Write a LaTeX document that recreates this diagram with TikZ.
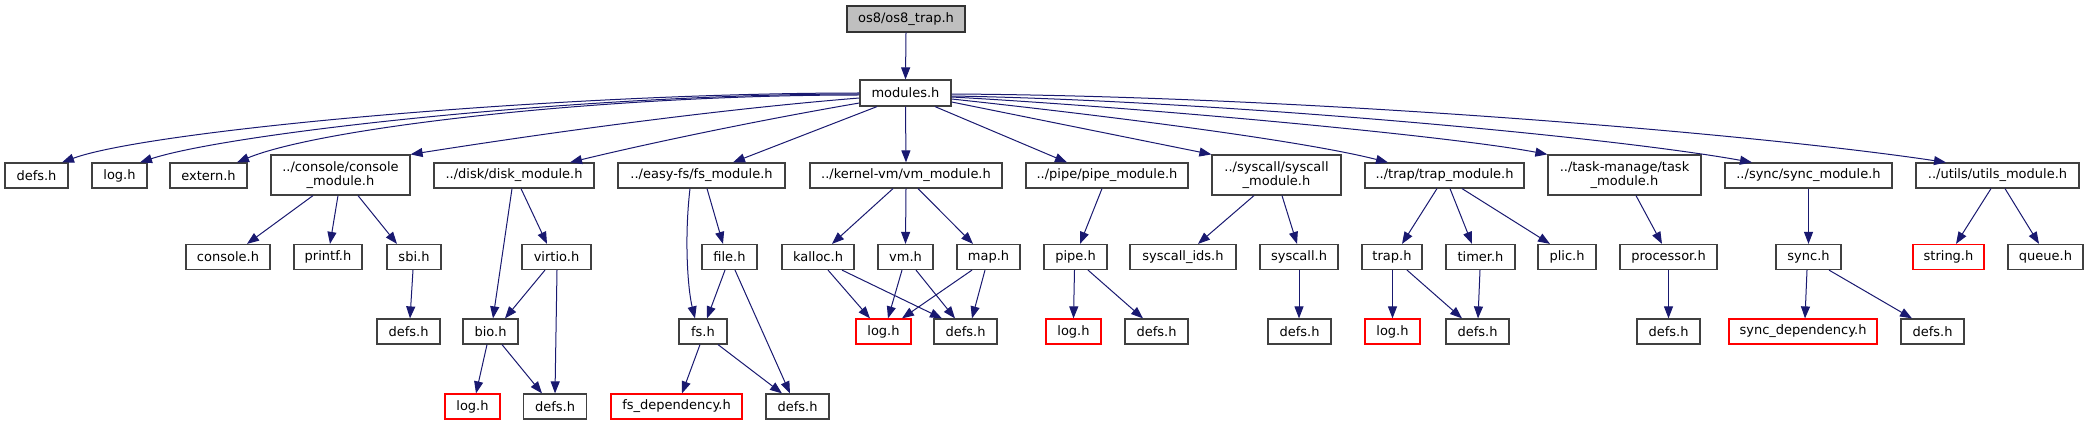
\documentclass[tikz,border=0pt]{standalone}
\usepackage{fontspec}
\setmainfont{DejaVu Sans}
\usetikzlibrary{arrows.meta}
\definecolor{edgeblue}{HTML}{191970}
\definecolor{rootfill}{HTML}{BFBFBF}
\definecolor{boxline}{HTML}{404040}
\tikzset{
  box/.style={draw=boxline, line width=1.2pt, fill=white, rectangle, inner sep=0pt,
    minimum height=25pt, align=center, text=black,
    font=\fontsize{13pt}{14.5pt}\selectfont},
  twoline/.style={box, minimum height=40pt},
  redbox/.style={box, draw=red},
  rootbox/.style={box, fill=rootfill, draw=black!80, minimum height=26pt},
  dep/.style={draw=edgeblue, line width=1pt, -{Triangle[length=12pt,width=9pt]}, fill=none}
}
\begin{document}
\begin{tikzpicture}[x=1pt,y=-1pt]
\useasboundingbox (0,0) rectangle (2089,425);
% nodes
\node[rootbox, minimum width=118pt] (root) at (906,19) {os8/os8\_trap.h};
\node[box, minimum width=91pt, minimum height=26pt] (mod) at (905.5,93) {modules.h};
% row 1
\node[box, minimum width=63pt] (dA) at (36.5,175.5) {defs.h};
\node[box, minimum width=55pt] (lA) at (119.5,175.5) {log.h};
\node[box, minimum width=77pt] (ext) at (208.5,175.5) {extern.h};
\node[twoline, minimum width=139pt] (con) at (340.5,175) {../console/console\\\_module.h};
\node[box, minimum width=160pt] (disk) at (514,175.5) {../disk/disk\_module.h};
\node[box, minimum width=167pt] (fsm) at (701.5,175.5) {../easy-fs/fs\_module.h};
\node[box, minimum width=192pt] (vmm) at (906,175.5) {../kernel-vm/vm\_module.h};
\node[box, minimum width=162pt] (pipem) at (1107,175.5) {../pipe/pipe\_module.h};
\node[twoline, minimum width=129pt] (sysm) at (1276.5,175) {../syscall/syscall\\\_module.h};
\node[box, minimum width=159pt] (trapm) at (1444.5,175.5) {../trap/trap\_module.h};
\node[twoline, minimum width=153pt] (taskm) at (1624.5,175) {../task-manage/task\\\_module.h};
\node[box, minimum width=167pt] (syncm) at (1808.5,175.5) {../sync/sync\_module.h};
\node[box, minimum width=163pt] (utilm) at (1997.5,175.5) {../utils/utils\_module.h};
% row 2
\node[box, minimum width=84pt] (conh) at (228,257) {console.h};
\node[box, minimum width=68pt] (printf) at (328,257) {printf.h};
\node[box, minimum width=54pt] (sbi) at (414,257) {sbi.h};
\node[box, minimum width=69pt] (virtio) at (556.5,257) {virtio.h};
\node[box, minimum width=55pt] (file) at (729.5,257) {file.h};
\node[box, minimum width=72pt] (kalloc) at (818,257) {kalloc.h};
\node[box, minimum width=55pt] (vmh) at (905.5,257) {vm.h};
\node[box, minimum width=63pt] (map) at (988.5,257) {map.h};
\node[box, minimum width=63pt] (pipeh) at (1075.5,257) {pipe.h};
\node[box, minimum width=106pt] (sysids) at (1183,257) {syscall\_ids.h};
\node[box, minimum width=78pt] (sysh) at (1299,257) {syscall.h};
\node[box, minimum width=60pt] (traph) at (1392,257) {trap.h};
\node[box, minimum width=69pt] (timer) at (1480.5,257) {timer.h};
\node[box, minimum width=58pt] (plic) at (1567,257) {plic.h};
\node[box, minimum width=97pt] (proc) at (1668.5,257) {processor.h};
\node[box, minimum width=65pt] (synch) at (1808.5,257) {sync.h};
\node[redbox, minimum width=71pt] (string) at (1948.5,257) {string.h};
\node[box, minimum width=75pt] (queue) at (2045.5,257) {queue.h};
% row 3
\node[box, minimum width=63pt] (dB) at (408.5,331.5) {defs.h};
\node[box, minimum width=55pt] (bio) at (490.5,331.5) {bio.h};
\node[box, minimum width=48pt] (fsh) at (703,331.5) {fs.h};
\node[redbox, minimum width=55pt] (lC) at (883.5,331.5) {log.h};
\node[box, minimum width=63pt] (dC) at (965.5,331.5) {defs.h};
\node[redbox, minimum width=55pt] (lD) at (1073.5,331.5) {log.h};
\node[box, minimum width=63pt] (dD) at (1156.5,331.5) {defs.h};
\node[box, minimum width=63pt] (dE) at (1299.5,331.5) {defs.h};
\node[redbox, minimum width=55pt] (lE) at (1392.5,331.5) {log.h};
\node[box, minimum width=63pt] (dF) at (1477.5,331.5) {defs.h};
\node[box, minimum width=63pt] (dG) at (1668.5,331.5) {defs.h};
\node[redbox, minimum width=148pt] (syncdep) at (1803,331.5) {sync\_dependency.h};
\node[box, minimum width=63pt] (dH) at (1932.5,331.5) {defs.h};
% row 4
\node[redbox, minimum width=55pt] (lB) at (472.5,406.5) {log.h};
\node[box, minimum width=63pt] (dI) at (555,406.5) {defs.h};
\node[redbox, minimum width=131pt] (fsdep) at (676.5,406.5) {fs\_dependency.h};
\node[box, minimum width=63pt] (dJ) at (797.5,406.5) {defs.h};
% edges
\draw[dep] (root.south) -- (mod.north);
\draw[dep] (mod.west) .. controls (560,93) and (150,130) .. ([xshift=25.5pt]dA.north);
\draw[dep] ([yshift=-1pt]mod.west) .. controls (580,94) and (230,133) .. ([xshift=20.5pt]lA.north);
\draw[dep] ([yshift=-2pt]mod.west) .. controls (600,95) and (320,128) .. ([xshift=28.5pt]ext.north);
\draw[dep] ([yshift=-5pt]mod.west) .. controls (710,110) and (540,134) .. (con.north east);
\draw[dep] ([yshift=-10pt]mod.west) .. controls (760,120) and (650,143) .. ([xshift=56pt]disk.north);
\draw[dep] ([xshift=-28.5pt]mod.south) -- ([xshift=31.5pt]fsm.north);
\draw[dep] (mod.south) -- (vmm.north);
\draw[dep] ([xshift=29.5pt]mod.south) -- ([xshift=-40pt]pipem.north);
\draw[dep] ([yshift=-9pt]mod.east) -- (sysm.north west);
\draw[dep] ([yshift=-6pt]mod.east) .. controls (1100,115) and (1300,140) .. ([xshift=-56.5pt]trapm.north);
\draw[dep] ([yshift=-4pt]mod.east) .. controls (1150,108) and (1450,136) .. (taskm.north west);
\draw[dep] ([yshift=-3pt]mod.east) .. controls (1200,100) and (1600,135) .. ([xshift=-56.5pt]syncm.north);
\draw[dep] ([yshift=-1pt]mod.east) .. controls (1300,96) and (1750,133) .. ([xshift=-51.5pt]utilm.north);
% console
\draw[dep] ([xshift=-27.5pt]con.south) -- ([xshift=19pt]conh.north);
\draw[dep] ([xshift=-2.5pt]con.south) -- ([xshift=2pt]printf.north);
\draw[dep] ([xshift=17.5pt]con.south) -- ([xshift=-17pt]sbi.north);
\draw[dep] ([xshift=-1pt]sbi.south) -- ([xshift=1.5pt]dB.north);
% disk
\draw[dep] ([xshift=-2pt]disk.south) -- ([xshift=2.5pt]bio.north);
\draw[dep] ([xshift=7pt]disk.south) -- ([xshift=-9.5pt]virtio.north);
\draw[dep] ([xshift=-11.5pt]virtio.south) -- ([xshift=14.5pt]bio.north);
\draw[dep] ([xshift=0.5pt]virtio.south) -- (dI.north);
\draw[dep] ([xshift=-3.5pt]bio.south) -- ([xshift=3.5pt]lB.north);
\draw[dep] ([xshift=11.5pt]bio.south) -- ([xshift=-13pt]dI.north);
% fs
\draw[dep] ([xshift=-11.5pt]fsm.south) .. controls (684,240) and (688,290) .. ([xshift=-8pt]fsh.north);
\draw[dep] ([xshift=5.5pt]fsm.south) -- ([xshift=-6.5pt]file.north);
\draw[dep] ([xshift=-4.5pt]file.south) -- ([xshift=4pt]fsh.north);
\draw[dep] ([xshift=5.5pt]file.south) -- ([xshift=-7.5pt]dJ.north);
\draw[dep] ([xshift=-3pt]fsh.south) -- ([xshift=5.5pt]fsdep.north);
\draw[dep] ([xshift=15pt]fsh.south) -- ([xshift=-15.5pt]dJ.north);
% vm
\draw[dep] ([xshift=-13pt]vmm.south) -- ([xshift=14pt]kalloc.north);
\draw[dep] (vmm.south) -- (vmh.north);
\draw[dep] ([xshift=12pt]vmm.south) -- ([xshift=-15.5pt]map.north);
\draw[dep] ([xshift=10pt]kalloc.south) -- ([xshift=-13.5pt]lC.north);
\draw[dep] ([xshift=24pt]kalloc.south) -- ([xshift=-23.5pt]dC.north);
\draw[dep] ([xshift=-3.5pt]vmh.south) -- ([xshift=4.5pt]lC.north);
\draw[dep] ([xshift=10.5pt]vmh.south) -- ([xshift=-10.5pt]dC.north);
\draw[dep] ([xshift=-16.5pt]map.south) -- ([xshift=18.5pt]lC.north);
\draw[dep] ([xshift=-3.5pt]map.south) -- ([xshift=6.5pt]dC.north);
% pipe
\draw[dep] ([xshift=-5pt]pipem.south) -- ([xshift=4.5pt]pipeh.north);
\draw[dep] ([xshift=-1pt]pipeh.south) -- ([xshift=0pt]lD.north);
\draw[dep] ([xshift=12.5pt]pipeh.south) -- ([xshift=-13.5pt]dD.north);
% syscall
\draw[dep] ([xshift=-22.5pt]sysm.south) -- ([xshift=15pt]sysids.north);
\draw[dep] ([xshift=5.5pt]sysm.south) -- ([xshift=-2pt]sysh.north);
\draw[dep] (sysh.south) -- ([xshift=-0.5pt]dE.north);
% trap
\draw[dep] ([xshift=-7.5pt]trapm.south) -- ([xshift=10pt]traph.north);
\draw[dep] ([xshift=5.5pt]trapm.south) -- ([xshift=-8.5pt]timer.north);
\draw[dep] ([xshift=17.5pt]trapm.south) -- ([xshift=-17pt]plic.north);
\draw[dep] ([xshift=0.5pt]traph.south) -- (lE.north);
\draw[dep] ([xshift=15pt]traph.south) -- ([xshift=-15.5pt]dF.north);
\draw[dep] ([xshift=-0.5pt]timer.south) -- ([xshift=0.5pt]dF.north);
% task
\draw[dep] ([xshift=11.5pt]taskm.south) -- ([xshift=-6.5pt]proc.north);
\draw[dep] (proc.south) -- (dG.north);
% sync
\draw[dep] (syncm.south) -- (synch.north);
\draw[dep] ([xshift=-1.5pt]synch.south) -- ([xshift=2pt]syncdep.north);
\draw[dep] ([xshift=20.5pt]synch.south) -- ([xshift=-20.5pt]dH.north);
% utils
\draw[dep] ([xshift=-6.5pt]utilm.south) -- ([xshift=7.5pt]string.north);
\draw[dep] ([xshift=7.5pt]utilm.south) -- ([xshift=-6.5pt]queue.north);
\end{tikzpicture}
\end{document}
